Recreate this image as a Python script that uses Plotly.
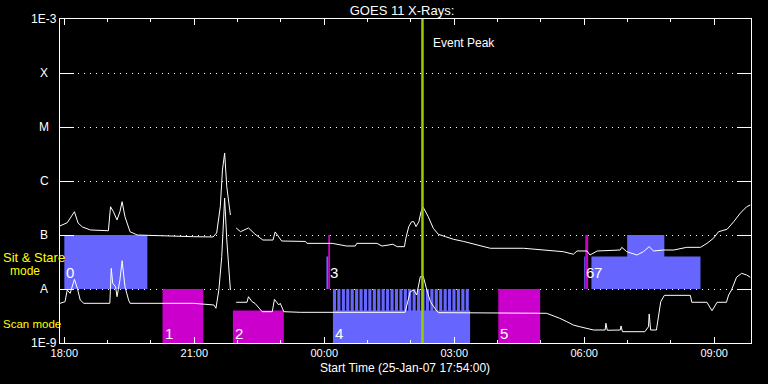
import plotly.graph_objects as go
import numpy as np
import datetime as _dt

# ---------------- data ----------------
long_time = ["17:54","18:04","18:14","18:19","18:25","18:36","19:01","19:04","19:08","19:13",
             "19:17","19:20","19:24","19:31","19:41","20:08","20:59","21:26","21:31","21:36",
             "21:39","21:42","21:45","21:50","21:54","21:58","22:04","22:15","22:18","22:24",
             "22:35","22:49","22:52","23:01","23:34","23:36","00:11","00:18","00:31","00:43",
             "00:45","01:13","01:20","01:35","01:41","01:51","01:53","01:57","02:01","02:04",
             "02:07","02:11","02:14","02:17","02:24","02:31","02:38","02:48","02:59","03:13",
             "03:27","03:45","03:50","04:36","05:08","05:31","05:45","05:50","06:04","06:08",
             "06:18","06:50","06:52","06:59","07:13","07:22","07:30","07:36","07:50","08:04",
             "08:22","08:41","08:50","08:59","09:06","09:18","09:27","09:36","09:45","09:50"]
long_flux = [1.47e-7,1.69e-7,2.70e-7,1.67e-7,1.41e-7,1.24e-7,1.20e-7,3.34e-7,2.70e-7,1.90e-7,
             2.70e-7,4.14e-7,2.18e-7,1.15e-7,1.00e-7,9.7e-8,9.3e-8,9.2e-8,1.09e-7,3.34e-7,
             1.60e-6,3.30e-6,7.83e-7,2.34e-7,None,1.35e-7,1.15e-7,1.35e-7,1.24e-7,1.04e-7,
             8.07e-8,8.07e-8,1.14e-7,7.74e-8,7.6e-8,7.0e-8,7.0e-8,6.73e-8,6.25e-8,6.25e-8,
             7.0e-8,7.0e-8,6.25e-8,6.73e-8,6.08e-8,6.08e-8,8.69e-8,1.43e-7,1.76e-7,1.76e-7,
             1.43e-7,1.76e-7,2.70e-7,3.26e-7,2.18e-7,1.33e-7,1.03e-7,9.3e-8,8.32e-8,7.6e-8,
             6.81e-8,6.08e-8,5.68e-8,5.68e-8,5.27e-8,4.91e-8,4.40e-8,5.06e-8,5.06e-8,4.26e-8,
             5.06e-8,5.27e-8,5.91e-8,4.91e-8,4.26e-8,4.91e-8,6.08e-8,5.06e-8,5.27e-8,5.27e-8,
             5.91e-8,5.91e-8,7.0e-8,8.69e-8,1.15e-7,1.28e-7,1.76e-7,2.52e-7,3.34e-7,3.59e-7]

short_time = ["17:54","18:01","18:04","18:08","18:14","18:18","18:22","18:27","19:03","19:05",
              "19:07","19:11","19:13","19:17","19:20","19:24","19:29","19:31","20:59","21:08",
              "21:27","21:30","21:34","21:38","21:41","21:42","21:45","21:50","21:54","21:58",
              "22:13","22:15","22:20","22:24","22:34","22:48","22:51","22:57","22:59","23:04",
              "23:27","01:52","01:57","01:59","02:04","02:08","02:13","02:17","02:22","02:27",
              "02:34","02:38","05:08","05:17","05:26","05:36","05:45","05:54","06:04","06:13",
              "06:29","06:30","06:32","06:50","06:51","06:53","07:24","07:29","07:30","07:32",
              "07:40","07:43","07:46","07:51","08:27","08:29","08:50","08:57","09:01","09:04",
              "09:17","09:20","09:24","09:31","09:38","09:45","09:50"]
short_flux = [5.43e-9,5.82e-9,9.58e-9,8.32e-9,1.51e-8,1.03e-8,6.25e-9,5.43e-9,5.43e-9,2.41e-8,
              1.28e-8,1.10e-8,7.2e-9,1.47e-8,3.34e-8,1.10e-8,6.25e-9,5.43e-9,5.43e-9,5.27e-9,
              5.06e-9,4.40e-9,9.58e-9,3.96e-8,1.90e-7,4.84e-7,8.07e-8,9.58e-9,None,5.68e-9,
              5.68e-9,7.2e-9,5.82e-9,5.43e-9,3.80e-9,3.80e-9,6.44e-9,5.06e-9,5.43e-9,3.80e-9,
              3.70e-9,3.70e-9,7.2e-9,8.91e-9,9.58e-9,7.74e-9,1.69e-8,1.74e-8,9.58e-9,5.82e-9,
              4.21e-9,3.65e-9,3.55e-9,3.21e-9,2.87e-9,2.48e-9,2.15e-9,2.0e-9,1.87e-9,1.74e-9,
              1.74e-9,2.32e-9,1.72e-9,1.74e-9,2.07e-9,1.62e-9,1.62e-9,2.0e-9,3.44e-9,1.74e-9,
              1.74e-9,3.07e-9,5.82e-9,7.63e-9,7.63e-9,5.68e-9,5.68e-9,3.96e-9,5.06e-9,5.68e-9,
              5.68e-9,7.74e-9,9.58e-9,1.65e-8,1.95e-8,1.82e-8,1.65e-8]

# observation blocks
block_start = ["18:00","20:16","21:53:30","00:03","00:05:30","00:12","04:01","06:00","06:01:30","06:10","06:59:30"]
block_end   = ["19:55","21:12:30","23:04","00:05:30","00:08","03:22","04:59","06:01:30","06:05:30","08:41","07:51"]
block_low   = [1e-8,1e-9,1e-9,1e-8,1e-8,1e-9,1e-9,1e-8,1e-8,1e-8,4e-8]
block_high  = [1e-7,1e-8,4e-9,4e-8,1e-7,4e-9,1e-8,4e-8,1e-7,4e-8,1e-7]
block_kind  = ["blue","mag","mag","blue","mag","blue","mag","blue","mag","blue","blue"]

# raster stripes of scan block 4
stripe_start = ["00:12:00","00:18:06","00:24:18","00:30:24","00:36:30","00:42:42","00:48:48","00:54:54",
                "01:01:00","01:07:12","01:13:18","01:19:24","01:25:36","01:31:42","01:37:48","01:44:00",
                "01:50:06","01:56:12","02:02:18","02:08:30","02:14:36","02:20:42","02:26:54","02:33:00",
                "02:39:06","02:45:18","02:51:24","02:57:30","03:03:36","03:09:48","03:15:54"]
stripe_minutes = 4.3
stripe_low, stripe_high = 4e-9, 1e-8

label_text = ["0","1","2","3","4","5","6","7"]
label_time = ["18:00","20:16","21:53:30","00:05:30","00:12","04:01","06:01:30","06:10"]
label_row  = ["ss","scan","scan","ss","scan","scan","ss","ss"]

event_peak = "02:16"
ytick_vals = [1e-9,1e-8,1e-7,1e-6,1e-5,1e-4,1e-3]
ytick_text = ["1E-9","A","B","C","M","X","1E-3"]

# ---------------- helpers ----------------
def to_dt(hm):
    h = int(hm[:2])
    day = "2007-01-25" if h >= 12 else "2007-01-26"
    s = hm if len(hm) > 5 else hm + ":00"
    return _dt.datetime.fromisoformat(f"{day} {s}")

COLORS = {"blue": "#6666ff", "mag": "#cc00cc"}
FONT = "Liberation Sans"
L, R, T, B = 60, 751, 19, 343
def xp(px): return (px - L) / (R - L)
def yp(py): return (B - py) / (B - T)
label_dx = {"6": -1, "7": 1}

fig = go.Figure()

polys = {"blue": ([], []), "mag": ([], [])}
for s, e, lo, hi, k in zip(block_start, block_end, block_low, block_high, block_kind):
    xs, ys = polys[k]
    t0, t1 = to_dt(s), to_dt(e)
    xs += [t0, t1, t1, t0, t0, None]
    ys += [lo, lo, hi, hi, lo, None]
for s in stripe_start:
    xs, ys = polys["blue"]
    t0 = to_dt(s)
    t1 = t0 + _dt.timedelta(minutes=stripe_minutes)
    xs += [t0, t1, t1, t0, t0, None]
    ys += [stripe_low, stripe_low, stripe_high, stripe_high, stripe_low, None]
for k, (xs, ys) in polys.items():
    fig.add_trace(go.Scatter(x=xs, y=ys, fill="toself", fillcolor=COLORS[k], mode="none",
                             hoverinfo="skip", showlegend=False))

fig.add_trace(go.Scatter(x=[to_dt(t) for t in long_time], y=long_flux, mode="lines",
                         line=dict(color="white", width=1), showlegend=False))
fig.add_trace(go.Scatter(x=[to_dt(t) for t in short_time], y=short_flux, mode="lines",
                         line=dict(color="white", width=1), showlegend=False))

pk = to_dt(event_peak)
fig.add_shape(type="line", xref="x", yref="paper", x0=pk, x1=pk, y0=0, y1=1,
              line=dict(color="#99cc00", width=2.5))

ann = []
ann.append(dict(x=pk, xref="x", y=yp(43), yref="paper", text="Event Peak", showarrow=False,
                xanchor="left", yanchor="middle", xshift=9, font=dict(color="white", size=12, family=FONT)))
for v, t in zip(ytick_vals, ytick_text):
    ann.append(dict(x=xp(44), xref="paper", y=np.log10(v), yref="y", text=t, showarrow=False,
                    xanchor="center", yanchor="middle", font=dict(color="white", size=12, family=FONT)))
for txt, t, row in zip(label_text, label_time, label_row):
    yy = yp(272) if row == "ss" else yp(333)
    ann.append(dict(x=to_dt(t), xref="x", y=yy, yref="paper", text=txt, showarrow=False,
                    xanchor="left", yanchor="middle", xshift=label_dx.get(txt, 0),
                    font=dict(color="white", size=15, family=FONT)))
ann.append(dict(x=xp(1), xref="paper", y=yp(257), yref="paper", text="Sit & Stare", showarrow=False,
                xanchor="left", yanchor="middle", font=dict(color="#ffff00", size=13, family=FONT)))
ann.append(dict(x=xp(24.5), xref="paper", y=yp(271), yref="paper", text="mode", showarrow=False,
                xanchor="center", yanchor="middle", font=dict(color="#ffff00", size=12, family=FONT)))
ann.append(dict(x=xp(1), xref="paper", y=yp(324), yref="paper", text="Scan mode", showarrow=False,
                xanchor="left", yanchor="middle", font=dict(color="#ffff00", size=11.5, family=FONT)))
ann.append(dict(x=xp(405), xref="paper", y=yp(368), yref="paper", text="Start Time (25-Jan-07 17:54:00)",
                showarrow=False, xanchor="center", yanchor="middle",
                font=dict(color="white", size=12, family=FONT)))

fig.update_layout(
    width=768, height=384,
    margin=dict(l=L, r=768 - R, t=T, b=384 - B),
    paper_bgcolor="black", plot_bgcolor="black",
    title=dict(text="GOES 11 X-Rays:", x=402 / 768, xanchor="center", y=1 - 10 / 384, yanchor="middle",
               font=dict(color="white", size=13, family=FONT)),
    annotations=ann,
    showlegend=False,
    hovermode=False,
    xaxis=dict(type="date", range=[to_dt("17:54"), to_dt("09:51")],
               tick0=to_dt("18:00"), dtick=3 * 3600000, tickformat="%H:%M",
               ticks="inside", ticklen=6, tickcolor="white", tickwidth=1,
               minor=dict(ticks="inside", ticklen=3, dtick=3600000, tick0=to_dt("18:00"), tickcolor="white"),
               showline=True, linecolor="white", linewidth=1, mirror="ticks",
               showgrid=False, zeroline=False,
               tickfont=dict(color="white", size=11, family=FONT)),
    yaxis=dict(type="log", range=[-9, -3], tickvals=ytick_vals, showticklabels=False,
               ticks="inside", ticklen=14, tickcolor="white", tickwidth=1,
               showline=True, linecolor="white", linewidth=1, mirror="ticks",
               showgrid=True, gridcolor="white", gridwidth=1, griddash="1px,5px", zeroline=False),
)

fig.write_html("out.html", config={"displayModeBar": False},
               post_script="document.body.style.margin='0';document.body.style.overflow='hidden';document.body.style.background='black';")
